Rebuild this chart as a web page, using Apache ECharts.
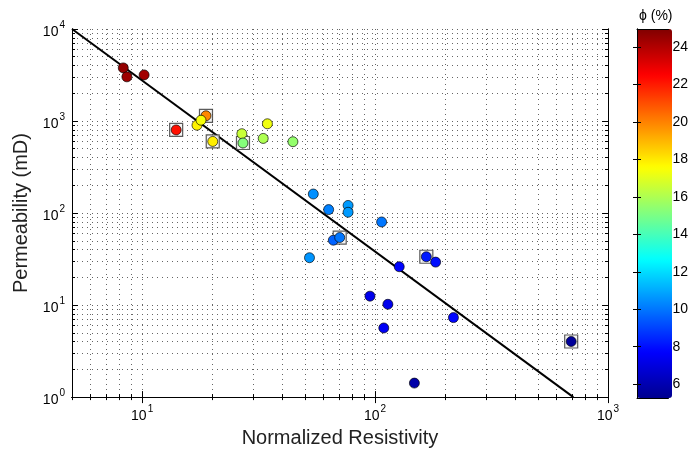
<!DOCTYPE html>
<html lang="en">
<head>
    <meta charset="UTF-8">
    <title>Permeability vs Normalized Resistivity</title>
    <script src="https://cdn.jsdelivr.net/npm/echarts@6/dist/echarts.min.js"></script>
</head>
<body style="margin:0;background:#fff;">
    <div id="main" style="width:691px;height:453px;"></div>

    <script>
        // measured samples
        const resistivity = [8.3, 8.6, 10.2, 14.0, 18.8, 17.2, 17.9, 20.1, 26.8, 27.1, 34.5, 33.1, 44.4,
            54.3, 63.2, 76.6, 76.6, 106.7, 66.2, 70.5, 52.3, 166, 182, 127, 95.1, 113.5, 109, 217, 147.5, 695];
        const permeability = [3780, 3020, 3170, 800, 1140, 900, 1020, 600, 728, 577, 933, 647, 596,
            161, 109, 121, 102, 80, 50.7, 54.2, 32.7, 33.5, 29.3, 26.1, 12.5, 10.2, 5.64, 7.31, 1.42, 4.02];
        const porosity = [24.6, 24.4, 24.3, 22.2, 19.9, 17.8, 17.4, 17.9, 16.5, 15.2, 17.3, 16.0, 15.5,
            10.5, 10.2, 10.7, 10.7, 10.0, 9.6, 10.0, 10.6, 8.2, 8.0, 7.8, 7.3, 7.3, 7.5, 7.8, 5.8, 5.5];
        // 1 = sample drawn with a square frame
        const boxed = [0, 0, 0, 1, 1, 0, 0, 1, 0, 1, 0, 0, 0,
            0, 0, 0, 0, 0, 0, 1, 0, 1, 0, 0, 0, 0, 0, 0, 0, 1];

        // fitted trend line end points
        const fitX = [5, 710];
        const fitY = [10000, 1];

        // axis ranges and tick labels
        const xRange = [5, 1000];
        const yRange = [1, 10000];
        const xDecades = [1, 2, 3];
        const yDecades = [0, 1, 2, 3, 4];
        const phiRange = [5.26, 24.96];
        const phiTicks = [6, 8, 10, 12, 14, 16, 18, 20, 22, 24];

        const jet = ['#00008f', '#0000ff', '#0080ff', '#00ffff', '#80ff80', '#ffff00', '#ff8000', '#ff0000', '#800000'];
        const FONT = 'Liberation Sans, Arial, Helvetica, sans-serif';
        const lg = Math.log10;

        function minorTicks(range) {
            const out = [];
            for (let p = Math.floor(lg(range[0])); p < Math.ceil(lg(range[1])); p++) {
                for (let k = 2; k <= 9; k++) {
                    const v = k * Math.pow(10, p);
                    if (v >= range[0] && v <= range[1]) out.push(lg(v));
                }
            }
            return out;
        }
        const xMinor = minorTicks(xRange);
        const yMinor = minorTicks(yRange);

        const gridLine = { show: true, lineStyle: { color: '#666', width: 1, type: [1, 4] } };
        const powLabel = {
            fontFamily: FONT,
            color: '#000',
            formatter: v => '{b|10}{s|' + Math.round(v) + '}',
            rich: {
                b: { fontSize: 14, fontFamily: FONT, color: '#000', padding: [6, 0, 0, 0] },
                s: { fontSize: 10, fontFamily: FONT, color: '#000', padding: [0, 0, 8, 1] }
            }
        };

        function logAxis(range, opts) {
            return Object.assign({
                type: 'value',
                gridIndex: 0,
                min: lg(range[0]),
                max: lg(range[1]),
                axisLine: { show: true, lineStyle: { color: '#000', width: 1 } },
                axisLabel: { show: false },
                splitLine: { show: false }
            }, opts);
        }

        const xAxes = [
            logAxis(xRange, {
                position: 'bottom',
                name: 'Normalized Resistivity',
                nameLocation: 'middle',
                nameGap: 30,
                nameTextStyle: { fontSize: 20, fontFamily: FONT, color: '#222' },
                axisLabel: Object.assign({ show: true, margin: 6, customValues: xDecades }, powLabel),
                axisTick: { show: true, inside: true, length: 6, customValues: xDecades, lineStyle: { color: '#000' } },
                splitLine: gridLine
            }),
            logAxis(xRange, {
                position: 'bottom',
                axisTick: { show: true, inside: true, length: 3, customValues: xMinor, lineStyle: { color: '#000' } },
                splitLine: gridLine
            }),
            logAxis(xRange, {
                position: 'top',
                axisTick: { show: true, inside: true, length: 6, customValues: xDecades, lineStyle: { color: '#000' } }
            }),
            logAxis(xRange, {
                position: 'top',
                axisTick: { show: true, inside: true, length: 3, customValues: xMinor, lineStyle: { color: '#000' } }
            }),
            // colorbar frame
            { type: 'value', gridIndex: 1, min: 0, max: 1, position: 'bottom', z: 10,
              axisLine: { show: true, lineStyle: { color: '#000' } }, axisTick: { show: false }, axisLabel: { show: false }, splitLine: { show: false } },
            { type: 'value', gridIndex: 1, min: 0, max: 1, position: 'top', z: 10,
              axisLine: { show: true, lineStyle: { color: '#000' } }, axisTick: { show: false }, axisLabel: { show: false }, splitLine: { show: false } }
        ];

        const yAxes = [
            logAxis(yRange, {
                position: 'left',
                name: 'Permeability (mD)',
                nameLocation: 'middle',
                nameGap: 36,
                nameTextStyle: { fontSize: 20, fontFamily: FONT, color: '#222' },
                axisLabel: Object.assign({ show: true, margin: 7, customValues: yDecades }, powLabel),
                axisTick: { show: true, inside: true, length: 6, customValues: yDecades, lineStyle: { color: '#000' } },
                splitLine: gridLine
            }),
            logAxis(yRange, {
                position: 'left',
                axisTick: { show: true, inside: true, length: 3, customValues: yMinor, lineStyle: { color: '#000' } },
                splitLine: gridLine
            }),
            logAxis(yRange, {
                position: 'right',
                axisTick: { show: true, inside: true, length: 6, customValues: yDecades, lineStyle: { color: '#000' } }
            }),
            logAxis(yRange, {
                position: 'right',
                axisTick: { show: true, inside: true, length: 3, customValues: yMinor, lineStyle: { color: '#000' } }
            }),
            { type: 'value', gridIndex: 1, min: phiRange[0], max: phiRange[1], position: 'left', z: 10,
              axisLine: { show: true, lineStyle: { color: '#000' } },
              axisTick: { show: true, inside: true, length: 4, customValues: phiTicks, lineStyle: { color: '#000' } },
              axisLabel: { show: false }, splitLine: { show: false } },
            { type: 'value', gridIndex: 1, min: phiRange[0], max: phiRange[1], position: 'right', z: 10,
              axisLine: { show: true, lineStyle: { color: '#000' } },
              axisTick: { show: true, inside: true, length: 4, customValues: phiTicks, lineStyle: { color: '#000' } },
              axisLabel: { show: true, margin: 4, customValues: phiTicks, fontSize: 14, fontFamily: FONT, color: '#000' },
              splitLine: { show: false } }
        ];

        const points = resistivity.map((r, i) => [lg(r), lg(permeability[i]), porosity[i]]);
        const framed = points.filter((p, i) => boxed[i] === 1);

        const option = {
            backgroundColor: '#fff',
            animation: false,
            title: {
                text: 'ϕ (%)',
                left: 634,
                top: 4,
                textStyle: { fontSize: 14, fontWeight: 'normal', fontFamily: FONT, color: '#000' }
            },
            grid: [
                { left: 72, top: 29, width: 536, height: 369 },
                { left: 637, top: 29, width: 35, height: 369 }
            ],
            xAxis: xAxes,
            yAxis: yAxes,
            visualMap: {
                type: 'continuous',
                seriesIndex: 2,
                dimension: 2,
                min: phiRange[0],
                max: phiRange[1],
                left: 637,
                top: 29,
                padding: 0,
                itemWidth: 35,
                itemHeight: 369,
                text: ['', ''],
                calculable: false,
                hoverLink: false,
                inRange: { color: jet }
            },
            series: [
                {
                    type: 'line',
                    xAxisIndex: 0,
                    yAxisIndex: 0,
                    data: fitX.map((x, i) => [lg(x), lg(fitY[i])]),
                    showSymbol: false,
                    lineStyle: { color: '#000', width: 2 },
                    z: 3
                },
                {
                    type: 'scatter',
                    xAxisIndex: 0,
                    yAxisIndex: 0,
                    symbol: 'rect',
                    symbolSize: 13,
                    data: framed,
                    itemStyle: { color: '#f2f2f2', borderColor: '#333', borderWidth: 1.2 },
                    z: 4
                },
                {
                    type: 'scatter',
                    xAxisIndex: 0,
                    yAxisIndex: 0,
                    symbolSize: 10,
                    data: points,
                    itemStyle: { borderColor: 'rgba(0,0,0,0.65)', borderWidth: 1, opacity: 1 },
                    z: 5
                }
            ]
        };

        const myChart = echarts.init(document.getElementById('main'));
        myChart.setOption(option);
    </script>
</body>
</html>
